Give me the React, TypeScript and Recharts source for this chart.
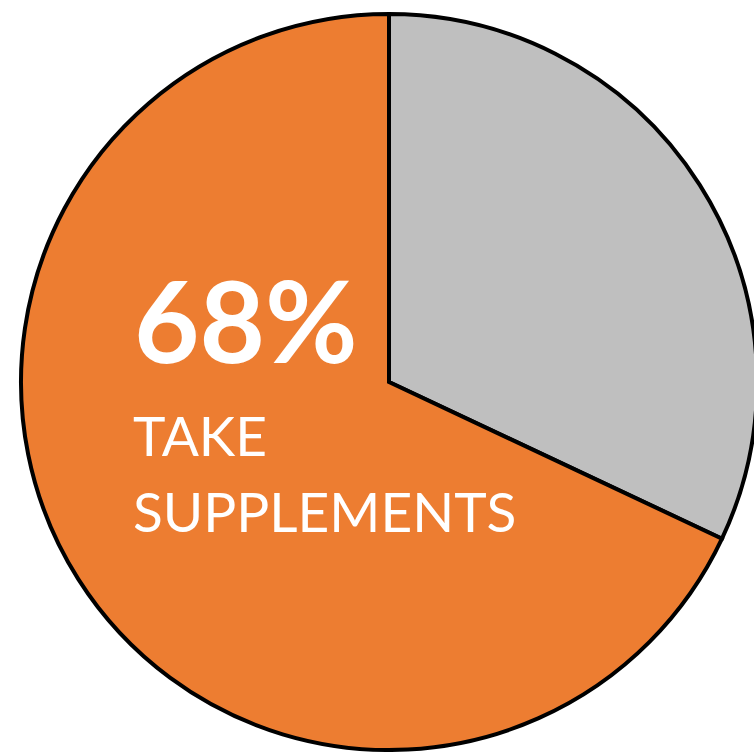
import React from "react";
import { PieChart, Pie, Cell } from "recharts";

const categories = ["Do not take supplements", "Take supplements"];
const values = [32, 68];
const colors = ["#BFBFBF", "#ED7D31"];
const headline = "68%";
const subLines = ["TAKE", "SUPPLEMENTS"];

const data = categories.map((name, i) => ({ name, value: values[i] }));

const font = "Lato, 'Open Sans', sans-serif";

const renderLabel = (props: any) => {
  if (props.index !== 1) return null;
  return (
    <g>
      <text x={134} y={363} fill="#fff" fontFamily={font} fontWeight={700} fontSize={113} textAnchor="start">
        {headline}
      </text>
      <text x={133} y={456} fill="#fff" fontFamily={font} fontWeight={400} fontSize={55} textAnchor="start">
        {subLines[0]}
      </text>
      <text x={133} y={532} fill="#fff" fontFamily={font} fontWeight={400} fontSize={55} textAnchor="start">
        {subLines[1]}
      </text>
    </g>
  );
};

export default function App() {
  return (
    <div style={{ position: "absolute", left: 0, top: 0, width: 754, height: 752, background: "#fff" }}>
      <PieChart width={754} height={752} margin={{ top: 0, right: 0, bottom: 0, left: 0 }}>
        <Pie
          data={data}
          dataKey="value"
          nameKey="name"
          cx={389}
          cy={382}
          outerRadius={368}
          startAngle={90}
          endAngle={-270}
          stroke="#000"
          strokeWidth={4}
          label={renderLabel}
          labelLine={false}
          isAnimationActive={false}
        >
          {data.map((d, i) => (
            <Cell key={d.name} fill={colors[i]} stroke="#000" strokeWidth={4} />
          ))}
        </Pie>
      </PieChart>
    </div>
  );
}
